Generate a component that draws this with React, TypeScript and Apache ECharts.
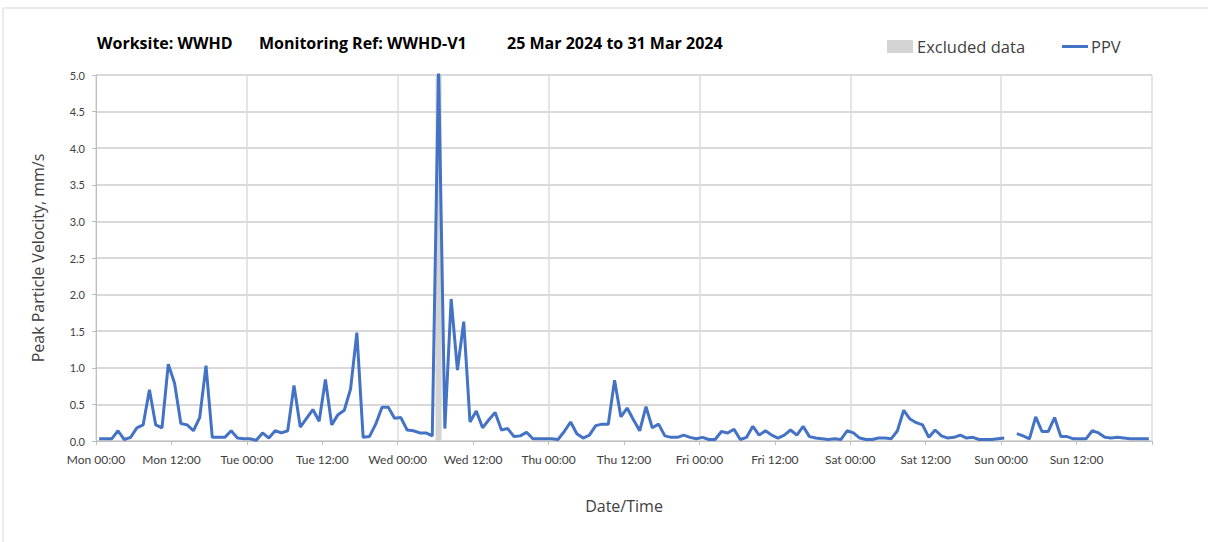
import React, { useEffect, useRef } from "react";
import * as echarts from "echarts";

// Hourly PPV maxima (mm/s), one array per day, starting at 00:00
const monPPV = [0.03,0.03,0.03,0.14,0.02,0.05,0.18,0.22,0.70,0.22,0.18,1.05,0.79,0.24,0.22,0.14,0.32,1.03,0.05,0.05,0.05,0.14,0.04,0.03];
const tuePPV = [0.03,0.01,0.11,0.04,0.14,0.11,0.14,0.76,0.19,0.31,0.43,0.27,0.84,0.22,0.36,0.42,0.71,1.48,0.05,0.06,0.23,0.46,0.46,0.31];
const wedPPV = [0.32,0.15,0.14,0.11,0.11,0.07,5.1,0.17,1.94,0.97,1.63,0.26,0.41,0.18,0.29,0.39,0.15,0.17,0.06,0.07,0.12,0.03,0.03,0.03];
const thuPPV = [0.03,0.02,0.13,0.26,0.10,0.04,0.08,0.21,0.23,0.23,0.83,0.33,0.45,0.29,0.14,0.47,0.18,0.23,0.07,0.05,0.05,0.08,0.05,0.03];
const friPPV = [0.05,0.02,0.02,0.13,0.11,0.16,0.02,0.05,0.20,0.08,0.14,0.08,0.04,0.08,0.15,0.08,0.20,0.06,0.04,0.03,0.02,0.03,0.02,0.14];
const satPPV = [0.11,0.04,0.02,0.02,0.04,0.04,0.03,0.14,0.42,0.30,0.25,0.22,0.05,0.15,0.07,0.04,0.05,0.08,0.04,0.05,0.02,0.02,0.02,0.03];
const sunPPV = [0.04,null,0.10,0.07,0.03,0.33,0.13,0.13,0.32,0.06,0.06,0.03,0.03,0.03,0.14,0.11,0.05,0.04,0.05,0.04,0.03,0.03,0.03,0.03];

const dayNames = ["Mon", "Tue", "Wed", "Thu", "Fri", "Sat", "Sun"];
const dayPPV = [monPPV, tuePPV, wedPPV, thuPPV, friPPV, satPPV, sunPPV];

// Excluded data period (hours from Mon 00:00) and its bar height
const excludedHours = [54.5];
const excludedValue = [5.0];

const titleParts = ["Worksite: WWHD", "Monitoring Ref: WWHD-V1", "25 Mar 2024 to 31 Mar 2024"];
const legendNames = ["Excluded data", "PPV"];

const FONT = "Lato, 'Open Sans', sans-serif";
const FONT2 = "'Open Sans', Lato, sans-serif";
const PPV_COLOR = "#4472C4";
const EXCL_COLOR = "#d4d4d4";

export default function App() {
  const ref = useRef<HTMLDivElement>(null);

  useEffect(() => {
    if (!ref.current) return;
    const chart = echarts.init(ref.current, undefined, { renderer: "svg" });

    const ppvData: any[] = [];
    dayPPV.forEach((arr, d) => {
      arr.forEach((v, h) => {
        ppvData.push([d * 24 + h + 0.5, v]);
      });
    });
    const excludedData = excludedHours.map((h, i) => [h, excludedValue[i]]);

    chart.setOption({
      animation: false,
      backgroundColor: "#ffffff",
      textStyle: { fontFamily: FONT },
      graphic: [
        {
          type: "rect",
          shape: { x: 3, y: 8, width: 1230, height: 560 },
          style: { fill: "none", stroke: "#d9d9d9", lineWidth: 1 },
          silent: true,
        },
        {
          type: "text", left: 97, top: 35,
          style: { text: titleParts[0], font: `bold 16px ${FONT2}`, fill: "#000" },
        },
        {
          type: "text", left: 259, top: 35,
          style: { text: titleParts[1], font: `bold 16px ${FONT2}`, fill: "#000" },
        },
        {
          type: "text", left: 507, top: 35,
          style: { text: titleParts[2], font: `bold 16px ${FONT2}`, fill: "#000" },
        },
        // legend
        {
          type: "rect",
          shape: { x: 887, y: 40, width: 26, height: 13 },
          style: { fill: EXCL_COLOR },
        },
        {
          type: "text", left: 917, top: 38,
          style: { text: legendNames[0], font: `16.5px ${FONT2}`, fill: "#404040" },
        },
        {
          type: "line",
          shape: { x1: 1062, y1: 46.5, x2: 1088, y2: 46.5 },
          style: { stroke: PPV_COLOR, lineWidth: 3 },
        },
        {
          type: "text", left: 1091, top: 38,
          style: { text: legendNames[1], font: `16.5px ${FONT2}`, fill: "#404040" },
        },
      ],
      grid: { left: 96, top: 75, right: 56, bottom: 101, containLabel: false },
      xAxis: [
        {
          type: "value",
          min: 0,
          max: 168,
          interval: 12,
          name: "Date/Time",
          nameLocation: "middle",
          nameGap: 57,
          nameTextStyle: { fontSize: 16, color: "#404040", fontFamily: FONT2 },
          axisLine: { show: true, onZero: false, lineStyle: { color: "#bfbfbf", width: 1 } },
          axisTick: { show: true, length: 4, lineStyle: { color: "#bfbfbf" } },
          axisLabel: {
            fontSize: 12,
            color: "#404040",
            margin: 12,
            fontFamily: FONT,
            formatter: (v: number) =>
              v >= 168 ? "" : `${dayNames[Math.floor(v / 24)]} ${v % 24 === 0 ? "00:00" : "12:00"}`,
          },
          splitLine: { show: false },
        },
        {
          type: "value",
          min: 0,
          max: 168,
          interval: 24,
          position: "bottom",
          axisLine: { show: false },
          axisTick: { show: false },
          axisLabel: { show: false },
          splitLine: { show: true, lineStyle: { color: "#dcdcdc", width: 1.5 } },
        },
      ],
      yAxis: {
        type: "value",
        min: 0,
        max: 5,
        interval: 0.5,
        name: "Peak Particle Velocity, mm/s",
        nameLocation: "middle",
        nameGap: 50,
        nameRotate: 90,
        nameTextStyle: { fontSize: 16, color: "#404040", fontFamily: FONT2 },
        axisLine: { show: true, lineStyle: { color: "#bfbfbf" } },
        axisTick: { show: true, length: 4, lineStyle: { color: "#bfbfbf" } },
        axisLabel: {
          fontSize: 11,
          color: "#404040",
          margin: 11,
          fontFamily: FONT,
          formatter: (v: number) => v.toFixed(1),
        },
        splitLine: { show: true, lineStyle: { color: "#cccccc", width: 1.5 } },
      },
      series: [
        {
          name: legendNames[0],
          type: "bar",
          xAxisIndex: 0,
          data: excludedData,
          barWidth: 6,
          itemStyle: { color: EXCL_COLOR },
          z: 1,
        },
        {
          name: legendNames[1],
          type: "line",
          xAxisIndex: 0,
          data: ppvData,
          symbol: "none",
          showSymbol: false,
          connectNulls: false,
          clip: true,
          lineStyle: { color: PPV_COLOR, width: 3 },
          itemStyle: { color: PPV_COLOR },
          z: 3,
        },
      ],
    });

    return () => chart.dispose();
  }, []);

  return (
    <div
      ref={ref}
      style={{ position: "fixed", left: 0, top: 0, width: 1208, height: 542 }}
    />
  );
}
